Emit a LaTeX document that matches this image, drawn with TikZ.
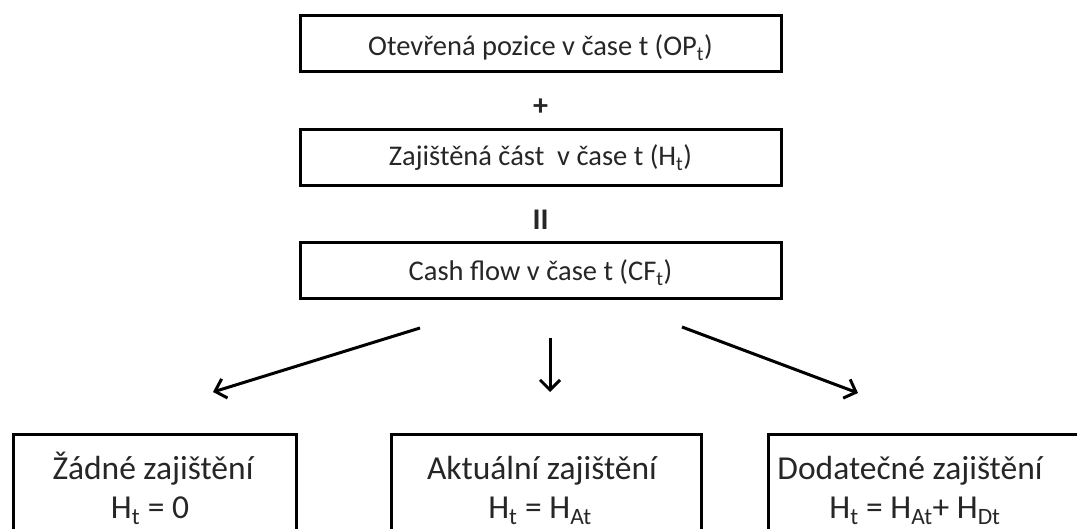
\documentclass[tikz,border=0pt]{standalone}
\usepackage{fontspec}
\setmainfont{Carlito}
\usetikzlibrary{arrows.meta}
\begin{document}
\begin{tikzpicture}[x=1pt,y=-1pt,
  topbox/.style={draw=black, line width=3pt, minimum width=481pt, minimum height=56pt, inner sep=0pt},
  toptext/.style={font=\fontsize{28.5}{34}\selectfont, text=black!85, anchor=base, inner sep=0pt},
  botbox/.style={draw=black, line width=3pt, inner sep=0pt, anchor=north west, minimum height=140pt},
  bottext/.style={font=\fontsize{33.5}{40}\selectfont, text=black!85, anchor=base, inner sep=0pt},
  op/.style={font=\bfseries\fontsize{30}{34}\selectfont, text=black!85, inner sep=0pt},
  arr/.style={line width=3pt, -{Straight Barb[length=10pt,width=20pt]}}
]
\useasboundingbox (0,0) rectangle (1077,529);
\begin{scope}
\clip (0,0) rectangle (1077,529);
\node[topbox] (op) at (540.5,44) {};
\node[toptext] (opt) at (540.5,56) {Otevřená pozice v čase t (OP\textsubscript{t})};
\node[op] (plus) at (540.5,107) {+};
\node[topbox] (h) at (540.5,157.5) {};
\node[toptext] (ht) at (540.5,166) {Zajištěná část \ v čase t (H\textsubscript{t})};
\node[op] (eq) at (540.5,220) {II};
\node[topbox] (cf) at (540.5,270.5) {};
\node[toptext] (cft) at (540.5,281) {Cash flow v čase t (CF\textsubscript{t})};

\node[botbox, minimum width=283pt] (b1) at (12,433) {};
\node[botbox, minimum width=310pt] (b2) at (390,433) {};
\node[botbox, minimum width=360pt] (b3) at (767,433) {};

\node[bottext] (t1a) at (153,479) {Žádné zajištění};
\node[bottext] (t1b) at (150,518) {H\textsubscript{t} = 0};
\node[bottext] (t2a) at (542,479) {Aktuální zajištění};
\node[bottext] (t2b) at (540,518) {H\textsubscript{t} = H\textsubscript{At}};
\node[bottext] (t3a) at (910,479) {Dodatečné zajištění};
\node[bottext] (t3b) at (915,518) {H\textsubscript{t} = H\textsubscript{At}+ H\textsubscript{Dt}};

\coordinate (s1) at (420,328);
\coordinate (e1) at (213,392);
\coordinate (s2) at (550,338);
\coordinate (e2) at (550,392);
\coordinate (s3) at (682,327);
\coordinate (e3) at (858,393);
\draw[arr] (s1) -- (e1);
\draw[arr] (s2) -- (e2);
\draw[arr] (s3) -- (e3);
\end{scope}
\end{tikzpicture}
\end{document}
